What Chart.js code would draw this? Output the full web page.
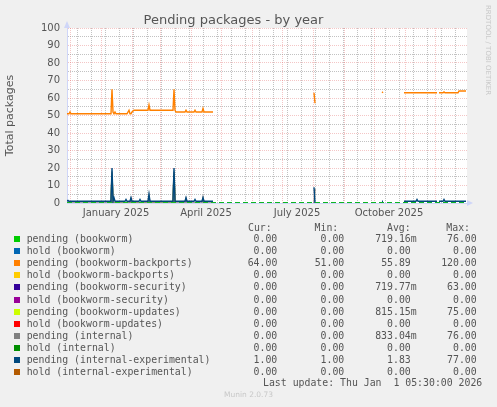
<!DOCTYPE html>
<html>
<head>
<meta charset="utf-8">
<script src="https://cdn.jsdelivr.net/npm/chart.js@4.4.0/dist/chart.umd.min.js"></script>
<style>
    html, body { margin: 0; padding: 0; background: #f0f0f0; width: 497px; height: 407px; overflow: hidden; }
    #wrap { position: relative; width: 497px; height: 407px; }
    #chart { position: absolute; left: 0; top: 0; }
    .mono { position: absolute; font-family: "DejaVu Sans Mono", monospace; font-size: 9.85px; line-height: 12px; height: 12px; color: #555; white-space: pre; }
    .r { text-align: right; }
    .swatch { position: absolute; width: 6px; height: 6px; }
    #rrd { position: absolute; left: 483px; top: 5px; font-family: "DejaVu Sans", sans-serif; font-size: 7px; color: #c8c8c8; transform-origin: 0 0; transform: translate(9px, 0) rotate(90deg); white-space: nowrap; }
    #munin { position: absolute; left: 0; width: 497px; top: 390px; text-align: center; font-family: "DejaVu Sans", sans-serif; font-size: 7.5px; color: #c8c8c8; }
</style>
</head>
<body>
<div id="wrap">
    <canvas id="chart" width="497" height="407"></canvas>
    <div id="rrd">RRDTOOL / TOBI OETIKER</div>
    <div id="legend"></div>
    <div id="munin">Munin 2.0.73</div>
</div>
<script>
// x values are days counted from 1 January 2025
const monthDays = [-31, 0, 31, 59, 90, 120, 151, 181, 212, 243, 273, 304, 334];
const weekDays = [-24, -10, 4, 18, 32, 46, 60, 74, 88, 102, 116, 130, 144, 158, 172, 186, 200, 214, 228, 242, 256, 270, 284, 298, 312, 326, 340, 354];
const labelDays = [15, 105, 196, 288];
const labelTexts = ['January 2025', 'April 2025', 'July 2025', 'October 2025'];

// pending (bookworm-backports)
const backportsDays = [-34, -32, -31, -30, 10, 11, 12, 13, 14, 15, 26, 27, 28, 29, 30, 31, 33, 47, 48, 49, 72, 73, 74, 75, 84, 85, 86, 93, 94, 95, 101, 102, 103, 112, 113, 213, 214, 215, 281, 282, 283, 303, 336, 337, 338, 342, 343, 344, 357, 358, 365];
const backportsValues = [51, 51, 52, 51, 51, 65, 52, 51, 52, 51, 51, 52, 53, 51, 51, 52, 53, 53, 56, 53, 53, 65, 53, 52, 52, 53, 52, 52, 53, 52, 52, 54, 52, 52, null, 63, 57, null, 63, 63.5, null, 63, 63, null, 63, 63, 63.5, 63, 63, 64, 64];

// pending (internal-experimental)
const intexpDays = [-34, -33, -32, 10, 11, 12, 13, 14, 24, 25, 26, 29, 30, 31, 38, 39, 40, 47, 48, 49, 72, 73, 74, 84, 85, 86, 93, 94, 95, 101, 102, 103, 112, 113, 213, 214, 215, 281, 282, 283, 303, 315, 316, 317, 336, 337, 338, 342, 343, 344, 365];
const intexpValues = [1, 1.5, 1, 1, 20, 1, 3, 1, 1, 2, 1, 1, 3, 1, 1, 2, 1, 1, 5, 1, 1, 20, 1, 1, 3, 1, 1, 2, 1, 1, 3, 1, 1, null, 9, 0, null, 1, 1, null, 1, 1, 2, 1, 1, null, 1, 1, 2, 1, 1];

// pending (internal)
const internalDays = [-34, 10, 11, 12, 29, 30, 31, 47, 48, 49, 72, 73, 74, 84, 85, 86, 101, 102, 103, 112, 113, 213, 214, 215];
const internalValues = [0, 0, 18, 0, 0, 2.5, 0, 0, 4, 0, 0, 18, 0, 0, 2.5, 0, 0, 3, 0, 0, null, 0, 8, null];

// pending (bookworm-updates) and pending (bookworm-security)
const spikeDays = [10, 11, 12, 72, 73, 74];
const updatesValues = [0, 17, 0, 0, 17, 0];
const securityValues = [0, 16, 0, 0, 16, 0];

// pending (bookworm) and all hold series sit at zero
const flatDays = [-34, 365];
const flatValues = [0, 0];

const seriesNames = ['pending (bookworm)', 'hold (bookworm)', 'pending (bookworm-backports)', 'hold (bookworm-backports)',
    'pending (bookworm-security)', 'hold (bookworm-security)', 'pending (bookworm-updates)', 'hold (bookworm-updates)',
    'pending (internal)', 'hold (internal)', 'pending (internal-experimental)', 'hold (internal-experimental)'];
const seriesColors = ['#00cc00', '#0066b3', '#ff8000', '#ffcc00', '#330099', '#990099', '#ccff00', '#ff0000', '#808080', '#008f00', '#00487d', '#b35a00'];
const curValues = ['0.00', '0.00', '64.00', '0.00', '0.00', '0.00', '0.00', '0.00', '0.00', '0.00', '1.00', '0.00'];
const minValues = ['0.00', '0.00', '51.00', '0.00', '0.00', '0.00', '0.00', '0.00', '0.00', '0.00', '1.00', '0.00'];
const avgValues = ['719.16m', '0.00 ', '55.89 ', '0.00 ', '719.77m', '0.00 ', '815.15m', '0.00 ', '833.04m', '0.00 ', '1.83 ', '0.00 '];
const maxValues = ['76.00', '0.00', '120.00', '0.00', '63.00', '0.00', '75.00', '0.00', '76.00', '0.00', '77.00', '0.00'];

const seriesDays = [flatDays, flatDays, backportsDays, flatDays, spikeDays, flatDays, spikeDays, flatDays, internalDays, flatDays, intexpDays, flatDays];
const seriesValues = [flatValues, flatValues, backportsValues, flatValues, securityValues, flatValues, updatesValues, flatValues, internalValues, flatValues, intexpValues, flatValues];
// lower order is drawn on top
const seriesOrder = [0, 7, 5, 8, 4, 9, 3, 10, 2, 11, 1, 12];

const FONT = '"DejaVu Sans", sans-serif';
const TEXT = '#555';
const GRID = 'rgba(143, 143, 143, 0.55)';
const MGRID = 'rgba(222, 79, 79, 0.32)';
const AXIS = '#cfd6f8';

const datasets = seriesNames.map((name, i) => {
    const flat = seriesDays[i] === flatDays;
    return {
        label: name,
        data: seriesDays[i].map((d, j) => ({ x: d, y: seriesValues[i][j] })),
        borderColor: seriesColors[i],
        backgroundColor: seriesColors[i],
        borderWidth: flat ? 1.6 : 1.4,
        borderDash: flat ? [5, 3] : [],
        pointRadius: 0,
        tension: 0,
        spanGaps: false,
        order: seriesOrder[i]
    };
});

const frame = {
    id: 'frame',
    beforeDraw(chart) {
        const { ctx, chartArea: a } = chart;
        ctx.save();
        ctx.fillStyle = '#fff';
        ctx.fillRect(a.left, a.top, a.right - a.left, a.bottom - a.top);
        ctx.restore();
    },
    afterDraw(chart) {
        const { ctx, chartArea: a } = chart;
        ctx.save();
        ctx.fillStyle = AXIS;
        ctx.beginPath();
        ctx.moveTo(a.left - 3, a.top);
        ctx.lineTo(a.left + 3, a.top);
        ctx.lineTo(a.left, a.top - 7);
        ctx.fill();
        ctx.beginPath();
        ctx.moveTo(a.right, a.bottom - 3);
        ctx.lineTo(a.right, a.bottom + 3);
        ctx.lineTo(a.right + 6, a.bottom);
        ctx.fill();
        ctx.restore();
    }
};

new Chart(document.getElementById('chart'), {
    type: 'line',
    data: { datasets },
    plugins: [frame],
    options: {
        responsive: false,
        animation: false,
        layout: { padding: { left: 0, top: 0, right: 30, bottom: 184 } },
        plugins: {
            legend: { display: false },
            tooltip: { enabled: false },
            title: {
                display: true,
                text: 'Pending packages - by year',
                color: TEXT,
                font: { family: FONT, size: 13, weight: 'normal' },
                padding: { top: 12.4, bottom: 0 }
            }
        },
        scales: {
            x: {
                type: 'linear',
                min: -34,
                max: 366,
                afterFit: s => { s.height = 20; },
                afterBuildTicks: s => {
                    const all = monthDays.concat(weekDays, labelDays).sort((a, b) => a - b);
                    s.ticks = all.map(v => ({ value: v }));
                },
                ticks: {
                    autoSkip: false,
                    maxRotation: 0,
                    padding: 4,
                    color: TEXT,
                    font: { family: FONT, size: 10 },
                    callback: v => {
                        const k = labelDays.indexOf(v);
                        return k >= 0 ? labelTexts[k] : '';
                    }
                },
                grid: {
                    drawTicks: false,
                    lineWidth: 1,
                    color: c => {
                        const v = c.tick && c.tick.value;
                        if (monthDays.includes(v)) return MGRID;
                        if (weekDays.includes(v)) return GRID;
                        return 'rgba(0,0,0,0)';
                    }
                },
                border: { display: true, color: AXIS, width: 1, dash: [1, 1] }
            },
            y: {
                min: 0,
                max: 100,
                afterFit: s => { s.width = 67; },
                ticks: {
                    stepSize: 5,
                    autoSkip: false,
                    padding: 7,
                    color: TEXT,
                    font: { family: FONT, size: 10 },
                    callback: v => (v % 10 === 0 ? String(v) : '')
                },
                title: {
                    display: true,
                    text: 'Total packages',
                    color: TEXT,
                    font: { family: FONT, size: 11 },
                    padding: { top: 4, bottom: 0 }
                },
                grid: {
                    drawTicks: false,
                    lineWidth: 1,
                    color: c => (c.tick && c.tick.value % 10 === 0 ? MGRID : GRID)
                },
                border: { display: true, color: AXIS, width: 1, dash: [1, 1] }
            }
        }
    }
});

// legend table below the plot, laid out like the munin text block
const legend = document.getElementById('legend');
function cell(text, right, y) {
    const el = document.createElement('div');
    el.className = 'mono r';
    el.style.left = (right - 300) + 'px';
    el.style.width = '300px';
    el.style.top = (y - 6) + 'px';
    el.textContent = text;
    legend.appendChild(el);
}
const headY = 228.3;
cell('Cur:', 271.7, headY);
cell('Min:', 338.3, headY);
cell('Avg:', 410.7, headY);
cell('Max:', 470, headY);
seriesNames.forEach((name, i) => {
    const y = 239.3 + i * 12.04;
    const sw = document.createElement('div');
    sw.className = 'swatch';
    sw.style.left = '14px';
    sw.style.top = (y - 3) + 'px';
    sw.style.background = seriesColors[i];
    legend.appendChild(sw);
    const t = document.createElement('div');
    t.className = 'mono';
    t.style.left = '26.7px';
    t.style.top = (y - 6) + 'px';
    t.textContent = name;
    legend.appendChild(t);
    cell(curValues[i], 277.3, y);
    cell(minValues[i], 344.3, y);
    cell(avgValues[i], 416.7, y);
    cell(maxValues[i], 476.7, y);
});
cell('Last update: Thu Jan  1 05:30:00 2026', 482.3, 383.3);
</script>
</body>
</html>
